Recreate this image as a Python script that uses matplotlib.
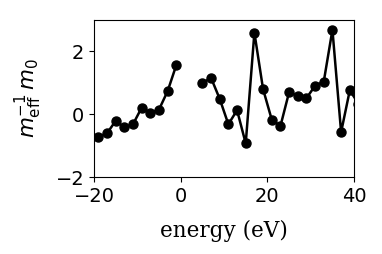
import numpy as np
import matplotlib
matplotlib.use("Agg")
import matplotlib.pyplot as plt

# energies (eV) and inverse effective mass values
energy = [-19, -17, -15, -13, -11, -9, -7, -5, -3, -1, 1, 3,
          5, 7, 9, 11, 13, 15, 17, 19, 21, 23, 25, 27, 29,
          31, 33, 35, 37, 39, 41]
inv_mass = [-0.72, -0.61, -0.21, -0.42, -0.32, 0.21, 0.04, 0.15, 0.74, 1.57,
            np.nan, np.nan,
            0.99, 1.16, 0.49, -0.32, 0.13, -0.93, 2.60, 0.80, -0.17, -0.38,
            0.70, 0.59, 0.51, 0.91, 1.04, 2.69, -0.57, 0.76, 0.34]

fig = plt.figure(figsize=(3.82, 2.54), dpi=100)
ax = fig.add_axes([0.246, 0.303, 0.681, 0.618])
ax.plot(energy, inv_mass, '-o', color='black', lw=1.8, ms=6.5)
ax.set_xlim(-20, 40)
ax.set_ylim(-2, 3)
ax.set_xticks([-20, 0, 20, 40])
ax.set_yticks([-2, 0, 2])
ax.tick_params(labelsize=14)
ax.set_xlabel("energy (eV)", family='DejaVu Serif', fontsize=15.5, labelpad=10)
ax.set_ylabel(r"$m_{\rm eff}^{-1}\,m_0$", fontsize=15.5, labelpad=8.5)
fig.savefig("out.png", dpi=100)
